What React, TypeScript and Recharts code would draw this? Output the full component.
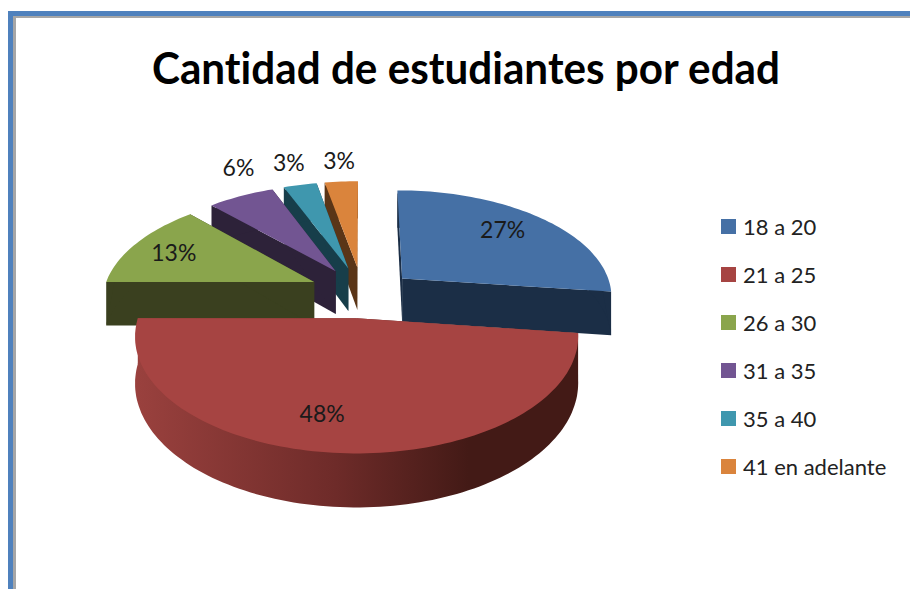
import React from "react";
import { PieChart, Pie, Legend } from "recharts";

const TITLE = "Cantidad de estudiantes por edad";
const categories = ["18 a 20", "21 a 25", "26 a 30", "31 a 35", "35 a 40", "41 en adelante"];
const shares = [27, 48, 13, 6, 3, 3];
const topColors = ["#4570a5", "#a64442", "#8aa54c", "#725592", "#3f97ae", "#da843c"];
const wallColors = ["#1b2e46", "url(#redWall)", "#3a401f", "#2d2239", "#173e4a", "#5a3517"];
const paintOrder = [5, 4, 3, 2, 0, 1];
// radial fraction and angle nudge for each percentage label
const labelPlacement = [
  { f: 0.75, nudge: 0 },
  { f: 0.75, nudge: 7 },
  { f: 0.78, nudge: 0 },
  { f: 1.35, nudge: 7.4 },
  { f: 1.32, nudge: 1 },
  { f: 1.3, nudge: 1 },
];
// extra explosion of each slice on the screen
const sliceShift = [
  { dx: 5, dy: 3 },
  { dx: 0, dy: 0 },
  { dx: 0, dy: 0 },
  { dx: 2, dy: 0 },
  { dx: 2, dy: 0 },
  { dx: 2, dy: 0 },
];

const FONT = "Lato, 'Open Sans', sans-serif";
const EXPLODE = 0.24;
const PERSPECTIVE = 0.15;
const TILT = 106;
const DEPTH = 44;
const rad = (d: number) => (d * Math.PI) / 180;

const tableData = categories.map((name, i) => ({ name, value: shares[i], fill: topColors[i] }));

// world (u, v) on the pie plane -> screen, with perspective
function project(cx: number, cy: number, R: number, u: number, v: number, down = 0) {
  const w = 1 + PERSPECTIVE * v;
  return { x: cx + (R * u) / w, y: cy - (TILT * v) / w + down / w };
}
function slicePoint(cx: number, cy: number, R: number, mid: number, theta: number, r: number, down = 0) {
  const u = EXPLODE * Math.sin(rad(mid)) + r * Math.sin(rad(theta));
  const v = EXPLODE * Math.cos(rad(mid)) + r * Math.cos(rad(theta));
  return project(cx, cy, R, u, v, down);
}
const toPath = (pts: { x: number; y: number }[]) =>
  "M" + pts.map((p) => `${p.x.toFixed(1)},${p.y.toFixed(1)}`).join("L") + "Z";

function makeShape(only: string) {
  return (props: any) => {
    if (props.name !== only) return <g />;
    const i = categories.indexOf(only);
    const { outerRadius: R } = props;
    const cx = props.cx + sliceShift[i].dx;
    const cy = props.cy + sliceShift[i].dy;
    const t0 = 90 - props.startAngle;
    const t1 = 90 - props.endAngle;
    const mid = (t0 + t1) / 2;
    const n = Math.max(4, Math.ceil(Math.abs(t1 - t0) / 1.5));
    const arc: number[] = [];
    for (let k = 0; k <= n; k++) arc.push(t0 + ((t1 - t0) * k) / n);
    const rimTop = arc.map((t) => slicePoint(cx, cy, R, mid, t, 1));
    const rimIn = arc.map((t) => slicePoint(cx, cy, R, mid, t, 0.96));
    const rimLow = arc.map((t) => slicePoint(cx, cy, R, mid, t, 1, DEPTH));
    const apex = slicePoint(cx, cy, R, mid, mid, 0);
    const apexLow = slicePoint(cx, cy, R, mid, mid, 0, DEPTH);
    const wall = wallColors[i];
    return (
      <g>
        <defs>
          <linearGradient id="redWall" gradientUnits="userSpaceOnUse" x1={135} y1={0} x2={580} y2={0}>
            <stop offset="0" stopColor="#9a413e" />
            <stop offset="0.45" stopColor="#6e2b29" />
            <stop offset="0.75" stopColor="#431a16" />
            <stop offset="1" stopColor="#431a16" />
          </linearGradient>
        </defs>
        <path d={toPath([apex, rimTop[0], rimLow[0], apexLow])} fill={wall} />
        <path d={toPath([apex, rimTop[n], rimLow[n], apexLow])} fill={wall} />
        <path d={toPath([...rimIn, ...[...rimLow].reverse()])} fill={wall} />
        <path d={toPath([apex, ...rimTop])} fill={props.fill} />
      </g>
    );
  };
}

function renderLabel(props: any) {
  const i = categories.indexOf(props.name);
  const { cx, cy, outerRadius: R, midAngle, percent } = props;
  const mid = 90 - midAngle;
  const { f, nudge } = labelPlacement[i];
  const p = slicePoint(cx, cy, R, mid, mid + nudge, f);
  return (
    <text x={p.x} y={p.y} textAnchor="middle" dominantBaseline="central" fontFamily={FONT} fontSize={23} fill="#1a1a1a">
      {Math.round(percent * 100)}%
    </text>
  );
}

function renderLegend(props: any) {
  const seen = new Set<string>();
  const entries = props.payload.filter((e: any) => {
    if (seen.has(e.value)) return false;
    seen.add(e.value);
    return true;
  });
  return (
    <div style={{ fontFamily: FONT, fontSize: 22, color: "#222" }}>
      {entries.map((e: any) => (
        <div key={e.value} style={{ height: 48, display: "flex", alignItems: "center" }}>
          <span style={{ width: 15, height: 15, background: e.color, marginRight: 7, flex: "none" }} />
          <span style={{ whiteSpace: "nowrap" }}>{e.value}</span>
        </div>
      ))}
    </div>
  );
}

export default function App() {
  return (
    <div style={{ position: "absolute", left: 0, top: 0, width: 910, height: 589, overflow: "hidden", background: "#fff" }}>
      <PieChart width={910} height={589} margin={{ top: 0, right: 0, bottom: 0, left: 0 }}>
        {paintOrder.map((idx, k) => (
          <Pie
            key={idx}
            data={tableData}
            dataKey="value"
            nameKey="name"
            cx={360}
            cy={292}
            outerRadius={211}
            startAngle={90}
            endAngle={-270}
            stroke="none"
            isAnimationActive={false}
            legendType={k === 0 ? "square" : "none"}
            shape={makeShape(categories[idx])}
            label={k === paintOrder.length - 1 ? renderLabel : false}
            labelLine={false}
          />
        ))}
        <text
          x={466}
          y={84}
          textAnchor="middle"
          fontFamily={FONT}
          fontWeight={700}
          fontSize={44}
          fill="#000"
          textLength={628}
          lengthAdjust="spacingAndGlyphs"
          style={{ fontVariantLigatures: "none" }}
        >
          {TITLE}
        </text>
        <Legend
          layout="vertical"
          align="right"
          verticalAlign="middle"
          content={renderLegend}
          wrapperStyle={{ position: "absolute", left: 721, top: 202, width: 185, right: "auto", bottom: "auto" }}
        />
      </PieChart>
      <div style={{ position: "absolute", left: 8, top: 11, right: 0, bottom: 0, borderTop: "5px solid #4f81bd", borderLeft: "5px solid #4f81bd", pointerEvents: "none" }} />
      <div style={{ position: "absolute", left: 13, top: 16, right: 0, bottom: 0, borderTop: "2px solid #a6a6a6", borderLeft: "3px solid #a6a6a6", pointerEvents: "none" }} />
    </div>
  );
}
